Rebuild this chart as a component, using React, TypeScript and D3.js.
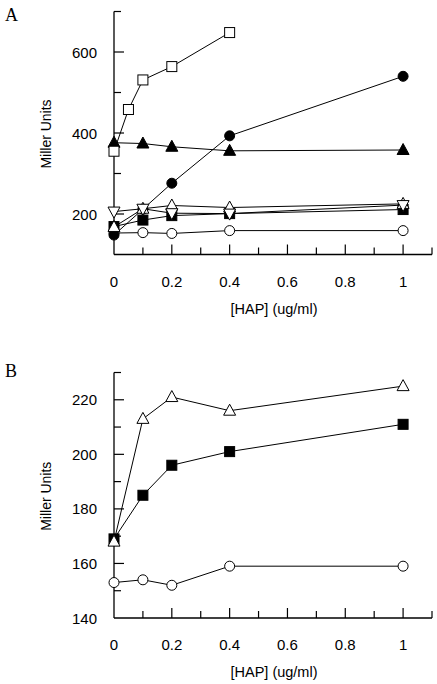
import React from "react";
import * as d3 from "d3";

const xA = [0, 0.05, 0.1, 0.2, 0.4];
const openSquareA = [355, 458, 531, 564, 648];
const xCommon = [0, 0.1, 0.2, 0.4, 1];
const filledCircleA = [148, 212, 276, 393, 540];
const filledTriangleA = [376, 374, 366, 356, 358];
const downTriangleA = [206, 213, 202, 201, 222];
const openTriangle = [168, 213, 221, 216, 225];
const filledSquare = [169, 185, 196, 201, 211];
const openCircle = [153, 154, 152, 159, 159];

const xTicks = [0, 0.2, 0.4, 0.6, 0.8, 1];
const xMinor = [0.1, 0.3, 0.5, 0.7, 0.9, 1.1];
const yTicksA = [200, 400, 600];
const yMinorA = [300, 500, 700];
const yTicksB = [140, 160, 180, 200, 220];
const yMinorB = [150, 170, 190, 210, 230];

type Series = { xs: number[]; ys: number[]; shape: string; fill: string };

const seriesA: Series[] = [
  { xs: xCommon, ys: openCircle, shape: "circle", fill: "white" },
  { xs: xCommon, ys: filledCircleA, shape: "circle", fill: "black" },
  { xs: xCommon, ys: filledSquare, shape: "square", fill: "black" },
  { xs: xCommon, ys: openTriangle, shape: "triangle", fill: "white" },
  { xs: xCommon, ys: downTriangleA, shape: "down", fill: "white" },
  { xs: xCommon, ys: filledTriangleA, shape: "triangle", fill: "black" },
  { xs: xA, ys: openSquareA, shape: "square", fill: "white" },
];

const seriesB: Series[] = [
  { xs: xCommon, ys: openCircle, shape: "circle", fill: "white" },
  { xs: xCommon, ys: filledSquare, shape: "square", fill: "black" },
  { xs: xCommon, ys: openTriangle, shape: "triangle", fill: "white" },
];

function Marker({ x, y, shape, fill }: { x: number; y: number; shape: string; fill: string }) {
  const s = 1;
  if (shape === "circle")
    return <circle cx={x} cy={y} r={5} fill={fill} stroke="black" strokeWidth={s} />;
  if (shape === "square")
    return <rect x={x - 5} y={y - 5} width={10} height={10} fill={fill} stroke="black" strokeWidth={s} />;
  if (shape === "triangle")
    return (
      <path d={`M${x},${y - 6.5}L${x + 6},${y + 4.5}L${x - 6},${y + 4.5}Z`} fill={fill} stroke="black" strokeWidth={s} />
    );
  return (
    <path d={`M${x},${y + 6.5}L${x + 6},${y - 4.5}L${x - 6},${y - 4.5}Z`} fill={fill} stroke="black" strokeWidth={s} />
  );
}

function Panel({
  top,
  bottom,
  domain,
  ticks,
  minor,
  series,
  letter,
  letterY,
}: {
  top: number;
  bottom: number;
  domain: [number, number];
  ticks: number[];
  minor: number[];
  series: Series[];
  letter: string;
  letterY: number;
}) {
  const x = d3.scaleLinear().domain([0, 1.1]).range([114, 432]);
  const y = d3.scaleLinear().domain(domain).range([bottom, top]);
  const line = d3
    .line<[number, number]>()
    .x((d) => x(d[0]))
    .y((d) => y(d[1]));
  const sans = "'Liberation Sans', Arial, sans-serif";
  return (
    <g>
      <text x={5} y={letterY} fontFamily="'Liberation Serif', 'Times New Roman', serif" fontSize={18}>
        {letter}
      </text>
      <line x1={x(0)} x2={x(0)} y1={y(domain[1])} y2={y(domain[0])} stroke="black" strokeWidth={1.3} />
      <line x1={x(0)} x2={x(1.1)} y1={y(domain[0])} y2={y(domain[0])} stroke="black" strokeWidth={1.3} />
      {ticks.map((t) => (
        <g key={"yt" + t}>
          {t !== domain[0] && (
            <line x1={x(0)} x2={x(0) + 10} y1={y(t)} y2={y(t)} stroke="black" strokeWidth={1.2} />
          )}
          <text x={97} y={y(t) + 5.5} textAnchor="end" fontFamily={sans} fontSize={15}>
            {t}
          </text>
        </g>
      ))}
      {minor.map((t) => (
        <line key={"ym" + t} x1={x(0)} x2={x(0) + 7} y1={y(t)} y2={y(t)} stroke="black" strokeWidth={1.2} />
      ))}
      {xTicks.map((t) => (
        <g key={"xt" + t}>
          {t !== 0 && (
            <line x1={x(t)} x2={x(t)} y1={bottom} y2={bottom - 10} stroke="black" strokeWidth={1.2} />
          )}
          <text x={x(t)} y={bottom + 32} textAnchor="middle" fontFamily={sans} fontSize={15}>
            {String(t)}
          </text>
        </g>
      ))}
      {xMinor.map((t) => (
        <line key={"xm" + t} x1={x(t)} x2={x(t)} y1={bottom} y2={bottom - 7} stroke="black" strokeWidth={1.2} />
      ))}
      <text x={274} y={bottom + 59} textAnchor="middle" fontFamily={sans} fontSize={14.5}>
        [HAP] (ug/ml)
      </text>
      <text
        transform={`translate(51, ${(top + bottom) / 2 + 1}) rotate(-90)`}
        textAnchor="middle"
        fontFamily={sans}
        fontSize={14}
      >
        Miller Units
      </text>
      {series.map((s, i) => {
        const pts = s.xs.map((v, j) => [v, s.ys[j]] as [number, number]);
        return (
          <g key={"s" + i}>
            <path d={line(pts) || ""} fill="none" stroke="black" strokeWidth={1} />
          </g>
        );
      })}
      {series.map((s, i) => (
        <g key={"m" + i}>
          {s.xs.map((v, j) => (
            <Marker key={j} x={x(v)} y={y(s.ys[j])} shape={s.shape} fill={s.fill} />
          ))}
        </g>
      ))}
    </g>
  );
}

export default function App() {
  return (
    <svg width={437} height={684} style={{ position: "absolute", left: 0, top: 0, background: "white" }}>
      <rect width={437} height={684} fill="white" />
      <Panel
        top={11.5}
        bottom={254.5}
        domain={[100, 700]}
        ticks={yTicksA}
        minor={yMinorA}
        series={seriesA}
        letter="A"
        letterY={21}
      />
      <Panel
        top={372.5}
        bottom={618}
        domain={[140, 230]}
        ticks={yTicksB}
        minor={yMinorB}
        series={seriesB}
        letter="B"
        letterY={377}
      />
    </svg>
  );
}
